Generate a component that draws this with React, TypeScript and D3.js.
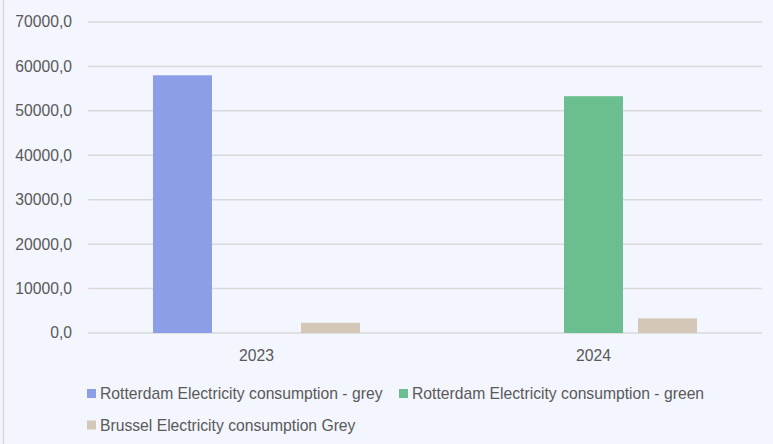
import React from "react";
import * as d3 from "d3";

const categories = ["2023", "2024"];
const seriesNames = [
  "Rotterdam Electricity consumption - grey",
  "Rotterdam Electricity consumption - green",
  "Brussel Electricity consumption Grey",
];
const rotterdamGrey = [58000, 0];
const rotterdamGreen = [0, 53300];
const brusselGrey = [2300, 3300];
const seriesColors = ["#8C9FE6", "#6BBE90", "#D5C7B7"];
const yTicks = [0, 10000, 20000, 30000, 40000, 50000, 60000, 70000];

const W = 773;
const H = 444;
const FONT = "'Liberation Sans', Arial, sans-serif";
const FS = 15.7;

export default function App() {
  const seriesValues = [rotterdamGrey, rotterdamGreen, brusselGrey];
  const y = d3.scaleLinear().domain([0, 70000]).range([333, 22]);
  const x0 = d3.scaleBand<string>().domain(categories).range([88, 762]).padding(0);
  const x1 = d3
    .scaleBand<number>()
    .domain([0, 1, 2])
    .range([0, x0.bandwidth()])
    .paddingInner(0.203)
    .paddingOuter(0.878);
  const fmt = (v: number) => d3.format(".1f")(v).replace(".", ",");

  const legend = [
    { i: 0, x: 87, y: 394 },
    { i: 1, x: 399, y: 394 },
    { i: 2, x: 87, y: 425.5 },
  ];

  return (
    <div style={{ position: "fixed", left: 0, top: 0, width: W, height: H }}>
      <svg width={W} height={H} style={{ display: "block" }}>
        <rect x={0} y={0} width={W} height={H} fill="#F3F6FE" />
        <line x1={3.5} x2={3.5} y1={0} y2={H} stroke="#D9D9D9" strokeWidth={1.5} />
        {yTicks.map((t) => (
          <g key={t}>
            <line x1={88} x2={762} y1={y(t)} y2={y(t)} stroke="#D9D9D9" strokeWidth={1.5} />
            <text
              x={72}
              y={y(t)}
              dy="0.35em"
              textAnchor="end"
              fontFamily={FONT}
              fontSize={FS}
              fill="#595959"
            >
              {fmt(t)}
            </text>
          </g>
        ))}
        {categories.map((c, ci) => (
          <g key={c}>
            {seriesValues.map((vals, si) =>
              vals[ci] > 0 ? (
                <rect
                  key={si}
                  x={(x0(c) as number) + (x1(si) as number)}
                  y={y(vals[ci])}
                  width={x1.bandwidth()}
                  height={y(0) - y(vals[ci])}
                  fill={seriesColors[si]}
                />
              ) : null
            )}
            <text
              x={(x0(c) as number) + x0.bandwidth() / 2}
              y={356}
              dy="0.35em"
              textAnchor="middle"
              fontFamily={FONT}
              fontSize={FS}
              fill="#595959"
            >
              {c}
            </text>
          </g>
        ))}
        {legend.map((l) => (
          <g key={l.i}>
            <rect x={l.x} y={l.y - 5} width={9} height={9} fill={seriesColors[l.i]} />
            <text
              x={l.x + 13}
              y={l.y}
              dy="0.35em"
              fontFamily={FONT}
              fontSize={FS}
              fill="#595959"
            >
              {seriesNames[l.i]}
            </text>
          </g>
        ))}
      </svg>
    </div>
  );
}
